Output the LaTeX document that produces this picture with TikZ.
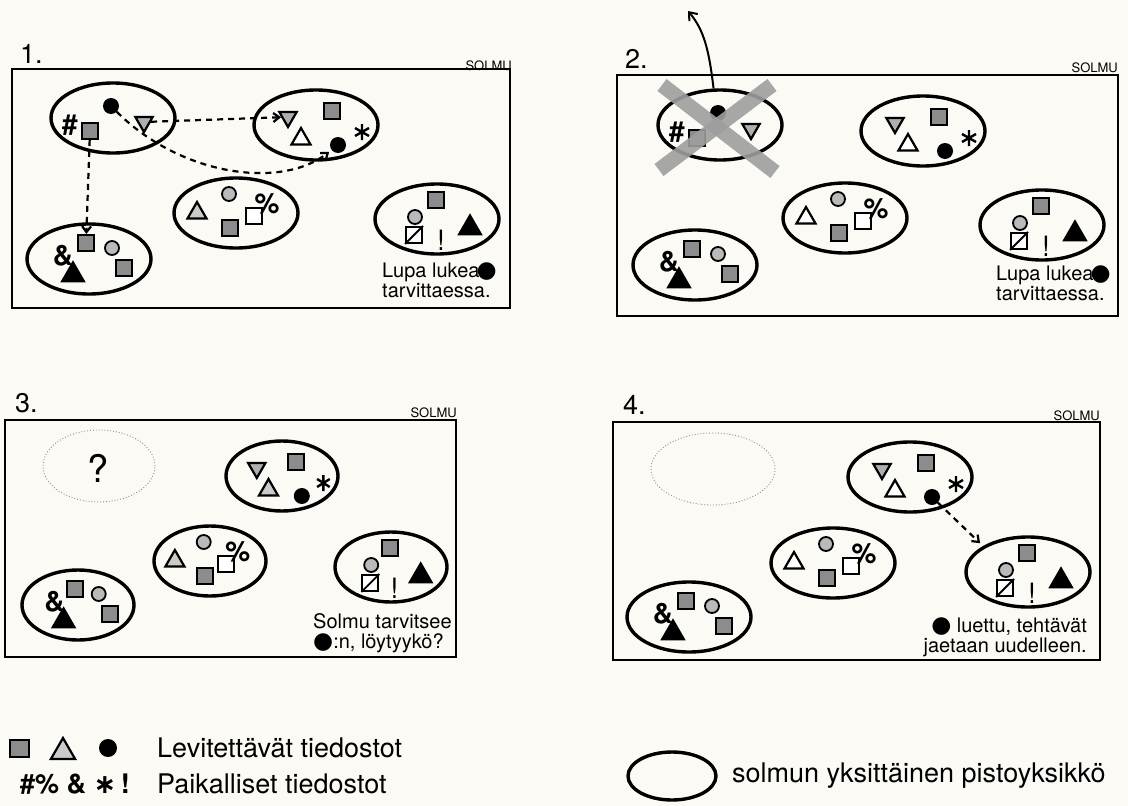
\documentclass[tikz,border=0pt]{standalone}
\usepackage{fontspec}
\setmainfont{TeX Gyre Heros}
\newfontfamily\symf{DejaVu Sans}
\usepackage{xcolor}
\usepackage{tikz}
\usetikzlibrary{shapes.geometric,arrows.meta}
\definecolor{paper}{RGB}{251,250,244}
\definecolor{dots}{RGB}{140,140,140}

\begin{document}
\begin{tikzpicture}[x=1pt,y=-1pt,
  ellw/.store in=\ellw, ellw=124,
  ell/.style={ellipse,draw,line width=3.4pt,minimum width=\ellw,minimum height=70,inner sep=0},
  ghost/.style={ellipse,draw=black!45,dotted,line width=.9pt,minimum height=72,inner sep=0},
  sqf/.style={rectangle,draw,line width=2pt,fill=dots,minimum size=16,inner sep=0},
  osq/.style={rectangle,draw,line width=2pt,fill=white,minimum size=16,inner sep=0},
  circf/.style={circle,draw,line width=1.8pt,fill=dots!60,minimum size=14,inner sep=0},
  dotf/.style={circle,fill=black,minimum size=16,inner sep=0},
  utri/.style={regular polygon,regular polygon sides=3,draw,line width=2.2pt,minimum size=22,inner sep=0},
  dtri/.style={utri,shape border rotate=180,fill=dots!70,minimum size=20},
  btri/.style={utri,fill=black,minimum size=25},
  sym/.style={font=\fontsize{28}{28}\selectfont\bfseries,inner sep=0},
  note/.style={font=\fontsize{20}{20}\selectfont,inner sep=0,align=left},
  big/.style={font=\fontsize{27}{27}\selectfont,inner sep=0},
  leg/.style={font=\fontsize{27}{27}\selectfont,inner sep=0},
  tag/.style={font=\fontsize{13}{13}\selectfont,inner sep=0},
  frame/.style={line width=2.6pt},
  astk/.style={line width=2.4pt},
  xband/.style={line width=15pt,draw=black!38,draw opacity=.9},
  dsh/.style={line width=2.2pt,dash pattern=on 6pt off 5pt,-{Straight Barb[length=6pt,width=9pt]}},
  pics/grpa/.style={code={
    \node[ell] (-e) at (0,0) {};
    \node[sym] (-hash) at (-43,7) {\#};
    \node[sqf] (-sq) at (-23,13) {};
    \node[dotf] (-dot) at (-2,-12) {};
    \node[dtri] (-dt) at (31,4) {};
  }},
  pics/grpb/.style={code={
    \node[ell] (-e) at (0,0) {};
    \node[dtri] (-dt) at (-28,-8) {};
    \node[utri,fill=#1] (-ut) at (-15,14) {};
    \node[sqf] (-sq) at (16,-14) {};
    \node[dotf] (-dot) at (22,20) {};
    \coordinate (-ast) at (46,7);
    \draw[astk] (-ast) +(0,-8) -- +(0,8) (-ast) +(-7,-4) -- +(7,4) (-ast) +(-7,4) -- +(7,-4);
  }},
  pics/grpc/.style={code={
    \node[ell] (-e) at (0,0) {};
    \node[utri,fill=#1] (-ut) at (-39,0) {};
    \node[circf] (-ci) at (-7,-19) {};
    \node[sqf] (-sq) at (-6,15) {};
    \node[osq] (-os) at (18,3) {};
    \node[sym] (-pc) at (31,-9) {\%};
  }},
  pics/grpd/.style={code={
    \node[ell] (-e) at (0,0) {};
    \node[sqf] (-sq) at (-3,-16) {};
    \node[sym] (-amp) at (-26,-3) {\&};
    \node[btri] (-bt) at (-16,16) {};
    \node[circf] (-ci) at (23,-11) {};
    \node[sqf] (-sq2) at (35,9) {};
  }},
  pics/grpe/.style={code={
    \node[ell] (-e) at (0,0) {};
    \node[sqf] (-sq) at (-1,-19) {};
    \node[circf] (-ci) at (-22,-2) {};
    \node[osq] (-os) at (-23,16) {};
    \draw[line width=1.8pt] (-os.south west) -- (-os.north east);
    \node[sym,font=\fontsize{28}{28}\selectfont\mdseries] (-ex) at (4,21) {!};
    \node[btri] (-bt) at (33,9) {};
  }}]
\fill[paper] (0,0) rectangle (1128,806);
\useasboundingbox (0,0) rectangle (1128,806);

\draw[frame] (12,69) rectangle (510,308);
\node[big,anchor=base west] (n1) at (20,63) {1.};
\node[tag,anchor=base east] (s1) at (512,70) {SOLMU};
\pic (p1a) at (113,118) {grpa};
\pic (p1b) at (316,125) {grpb=white};
\pic (p1c) at (236,213) {grpc=dots!45};
\pic (p1d) at (89,259) {grpd};
\pic (p1e) at (437,219) {grpe};
\draw[dsh] (p1a-dt) -- (p1b-dt);
\draw[dsh,shorten >=3pt] (p1a-dot) .. controls (180,175) and (280,190) .. (p1b-dot);
\draw[dsh] (p1a-sq) -- (p1d-sq);
\node[note,anchor=base west] (t1) at (382,297) {Lupa lukea\kern-3pt{\symf\fontsize{23}{20}\selectfont ●}\\tarvittaessa.};

\draw[frame] (617,75) rectangle (1118,316);
\node[big,anchor=base west] (n2) at (625,68) {2.};
\node[tag,anchor=base east] (s2) at (1118,72) {SOLMU};
\pic (p2a) at (720,125) {grpa};
\pic (p2b) at (923,131) {grpb=white};
\pic (p2c) at (845,218) {grpc=white};
\pic (p2d) at (695,265) {grpd};
\pic (p2e) at (1042,225) {grpe};
\draw[xband] (662,85) -- (775,172);
\draw[xband] (772,85) -- (659,170);
\coordinate (away) at (688,11);
\draw[line width=2pt,-{Straight Barb[length=7pt,width=11pt]}] (p2a-e.100) .. controls (709,50) and (704,30) .. (away);
\node[note,anchor=base west] (t2) at (996,300) {Lupa lukea\kern-3pt{\symf\fontsize{23}{20}\selectfont ●}\\tarvittaessa.};

\begin{scope}[ellw=112]
\draw[frame] (5,420) rectangle (456,657);
\node[big,anchor=base west] (n3) at (15,412) {3.};
\node[tag,anchor=base east] (s3) at (457,417) {SOLMU};
\node[ghost,minimum width=112] (p3a) at (99,466) {};
\node[font=\fontsize{38}{38}\selectfont,inner sep=0] (q3) at (98,468) {?};
\pic[xscale=.9] (p3b) at (282,476) {grpb=dots!45};
\pic[xscale=.9] (p3c) at (210,561) {grpc=dots!45};
\pic[xscale=.9] (p3d) at (78,605) {grpd};
\pic[xscale=.9] (p3e) at (391,567) {grpe};
\node[note,anchor=base west] (t3) at (313,648) {Solmu tarvitsee\\{\symf\fontsize{23}{20}\selectfont ●}:n, löytyykö?};
\end{scope}

\draw[frame] (613,422) rectangle (1100,660);
\node[big,anchor=base west] (n4) at (623,414) {4.};
\node[tag,anchor=base east] (s4) at (1100,420) {SOLMU};
\node[ghost,minimum width=124] (p4a) at (713,469) {};
\pic (p4b) at (910,477) {grpb=white};
\pic (p4c) at (833,563) {grpc=white};
\pic (p4d) at (689,617) {grpd};
\pic (p4e) at (1028,572) {grpe};
\draw[dsh,shorten >=4pt] (p4b-dot) -- (p4e-e.150);
\node[note,anchor=base east,align=right] (t4) at (1087,652) {{\symf\fontsize{23}{20}\selectfont ●} luettu, tehtävät\\jaetaan uudelleen.};

\node[sqf,minimum width=19,minimum height=17] (lsq) at (19,748) {};
\node[utri,fill=dots!45,minimum size=28] (ltri) at (63,752) {};
\node[dotf,minimum size=18] (ldot) at (108,748) {};
\node[leg,anchor=base west] (lt1) at (157,757) {Levitettävät tiedostot};
\node[leg,anchor=base west] (lsym) at (20,793) {\bfseries\#\% \& {\symf ∗}\,!};
\node[leg,anchor=base west] (lt2) at (157,793) {Paikalliset tiedostot};
\node[ell,minimum width=88,minimum height=48] (lell) at (672,776) {};
\node[leg,anchor=base west] (lt3) at (732,782) {solmun yksittäinen pistoyksikkö};
\end{tikzpicture}
\end{document}
